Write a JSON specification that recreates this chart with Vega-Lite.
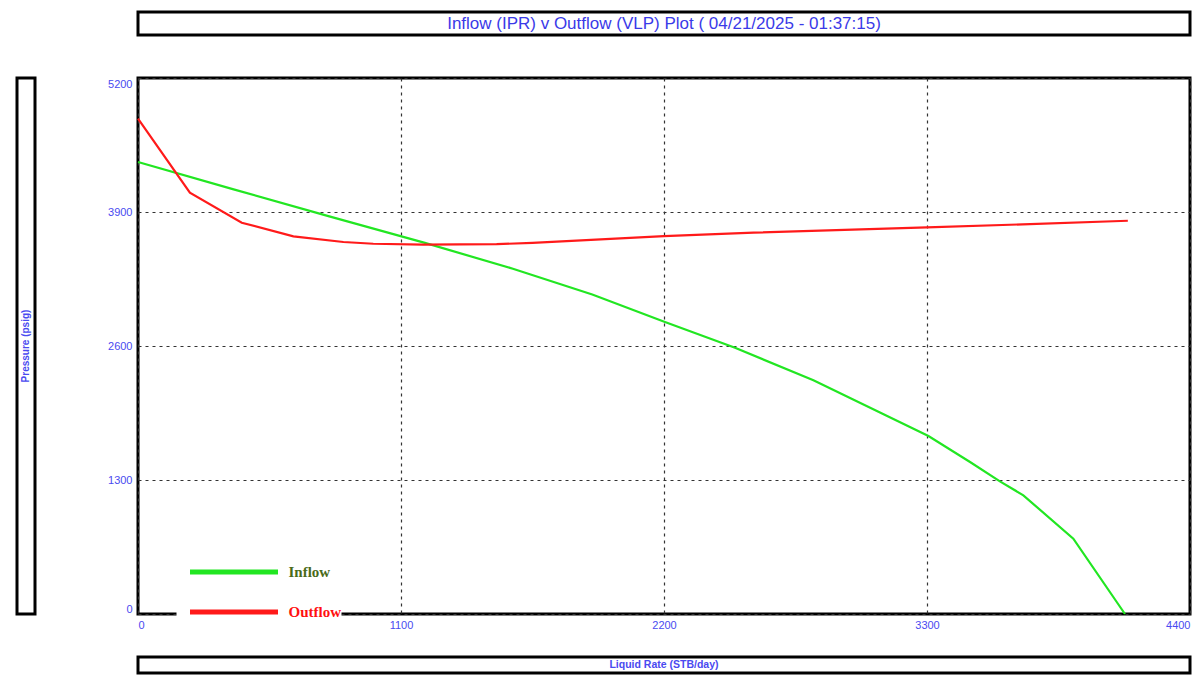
{
  "$schema": "https://vega.github.io/schema/vega-lite/v6.json",
  "padding": {"left": 15, "top": 10, "right": 0, "bottom": 0},
  "background": "white",
  "columns": 2,
  "spacing": {"row": 43, "column": 103},
  "bounds": "flush",
  "align": "each",
  "config": {"font": "Liberation Sans"},
  "concat": [
    {
      "width": 18, "height": 23,
      "view": {"stroke": null},
      "data": {"values": [{"t": ""}]},
      "mark": {"type": "text"},
      "encoding": {"text": {"field": "t"}}
    },
    {
      "width": 1052, "height": 23,
      "view": {"stroke": "black", "strokeWidth": 3},
      "data": {"values": [{"t": "Inflow (IPR) v Outflow (VLP) Plot ( 04/21/2025 - 01:37:15)"}]},
      "mark": {"type": "text", "align": "center", "baseline": "middle", "font": "Liberation Sans", "fontSize": 17, "color": "#3a3ae8"},
      "encoding": {
        "text": {"field": "t"},
        "x": {"datum": 0.5, "type": "quantitative", "scale": {"domain": [0, 1]}, "axis": null},
        "y": {"datum": 0.5, "type": "quantitative", "scale": {"domain": [0, 1]}, "axis": null}
      }
    },
    {
      "width": 18, "height": 536,
      "view": {"stroke": "black", "strokeWidth": 3},
      "data": {"values": [{"t": "Pressure  (psig)"}]},
      "mark": {"type": "text", "angle": 270, "align": "center", "baseline": "middle", "fontSize": 10, "fontWeight": "bold", "color": "#4a4af0"},
      "encoding": {
        "text": {"field": "t"},
        "x": {"datum": 0.5, "type": "quantitative", "scale": {"domain": [0, 1]}, "axis": null},
        "y": {"datum": 0.5, "type": "quantitative", "scale": {"domain": [0, 1]}, "axis": null}
      }
    },
    {
      "width": 1052, "height": 536,
      "view": {"stroke": "black", "strokeWidth": 3},
      "data": {"values": [
        {"rate": 0, "pressure": 4385, "curve": "Inflow"},
        {"rate": 400, "pressure": 4120, "curve": "Inflow"},
        {"rate": 800, "pressure": 3857, "curve": "Inflow"},
        {"rate": 1200, "pressure": 3600, "curve": "Inflow"},
        {"rate": 1568, "pressure": 3350, "curve": "Inflow"},
        {"rate": 1900, "pressure": 3100, "curve": "Inflow"},
        {"rate": 2204, "pressure": 2833, "curve": "Inflow"},
        {"rate": 2497, "pressure": 2583, "curve": "Inflow"},
        {"rate": 2825, "pressure": 2267, "curve": "Inflow"},
        {"rate": 3306, "pressure": 1727, "curve": "Inflow"},
        {"rate": 3480, "pressure": 1475, "curve": "Inflow"},
        {"rate": 3605, "pressure": 1287, "curve": "Inflow"},
        {"rate": 3703, "pressure": 1151, "curve": "Inflow"},
        {"rate": 3912, "pressure": 731, "curve": "Inflow"},
        {"rate": 4128, "pressure": 0, "curve": "Inflow"},
        {"rate": 0, "pressure": 4805, "curve": "Outflow"},
        {"rate": 217, "pressure": 4087, "curve": "Outflow"},
        {"rate": 434, "pressure": 3796, "curve": "Outflow"},
        {"rate": 650, "pressure": 3664, "curve": "Outflow"},
        {"rate": 859, "pressure": 3609, "curve": "Outflow"},
        {"rate": 984, "pressure": 3592, "curve": "Outflow"},
        {"rate": 1193, "pressure": 3583, "curve": "Outflow"},
        {"rate": 1500, "pressure": 3588, "curve": "Outflow"},
        {"rate": 1650, "pressure": 3600, "curve": "Outflow"},
        {"rate": 2200, "pressure": 3665, "curve": "Outflow"},
        {"rate": 2575, "pressure": 3700, "curve": "Outflow"},
        {"rate": 3300, "pressure": 3750, "curve": "Outflow"},
        {"rate": 3700, "pressure": 3780, "curve": "Outflow"},
        {"rate": 4140, "pressure": 3815, "curve": "Outflow"}
      ]},
      "mark": {"type": "line", "strokeWidth": 2.2},
      "encoding": {
        "x": {"field": "rate", "type": "quantitative", "scale": {"domain": [0, 4400], "nice": false, "zero": false},
          "axis": {"title": null, "values": [0, 1100, 2200, 3300, 4400], "format": "d", "ticks": false, "domain": false, "labelFlush": true, "labelPadding": 5, "labelFont": "Liberation Sans", "labelColor": "#4a4af0", "labelFontSize": 11, "gridColor": "#333333", "gridDash": [3, 4], "gridWidth": 1.2, "gridOpacity": 1}},
        "y": {"field": "pressure", "type": "quantitative", "scale": {"domain": [0, 5200], "nice": false},
          "axis": {"title": null, "values": [0, 1300, 2600, 3900, 5200], "format": "d", "ticks": false, "domain": false, "labelFlush": true, "labelPadding": 6, "labelFont": "Liberation Sans", "labelColor": "#4a4af0", "labelFontSize": 11, "gridColor": "#333333", "gridDash": [3, 4], "gridWidth": 1.2, "gridOpacity": 1}},
        "color": {"field": "curve", "type": "nominal",
          "scale": {"domain": ["Inflow", "Outflow"], "range": ["#22e622", "#ff1a1a"]},
          "legend": {"orient": "none", "legendX": 159.5, "legendY": 546.5, "title": null, "padding": 0, "fillColor": "white",
            "symbolType": "M0,0H8", "symbolSize": 484, "symbolStrokeWidth": 5, "rowPadding": 16, "labelOffset": 85,
            "labelFont": "Liberation Serif", "labelFontSize": 15, "labelFontWeight": "bold",
            "symbolStrokeColor": {"expr": "datum.label === 'Inflow' ? '#9ad935' : '#ff1010'"},
            "encode": {
              "labels": {"update": {"fill": {"signal": "datum.label === 'Inflow' ? '#4a6b1a' : '#ff1010'"}}}
            }}}
      }
    },
    {
      "width": 18, "height": 16,
      "view": {"stroke": null},
      "data": {"values": [{"t": ""}]},
      "mark": {"type": "text"},
      "encoding": {"text": {"field": "t"}}
    },
    {
      "width": 1052, "height": 16,
      "view": {"stroke": "black", "strokeWidth": 3},
      "data": {"values": [{"t": "Liquid Rate  (STB/day)"}]},
      "mark": {"type": "text", "align": "center", "baseline": "middle", "fontSize": 10.5, "fontWeight": "bold", "color": "#4a4af0"},
      "encoding": {
        "text": {"field": "t"},
        "x": {"datum": 0.5, "type": "quantitative", "scale": {"domain": [0, 1]}, "axis": null},
        "y": {"datum": 0.5, "type": "quantitative", "scale": {"domain": [0, 1]}, "axis": null}
      }
    }
  ]
}
